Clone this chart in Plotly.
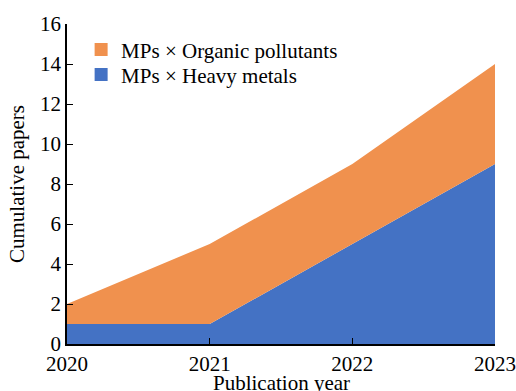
import plotly.graph_objects as go

years = [2020, 2021, 2022, 2023]
heavy_metals = [1, 1, 5, 9]
organic = [1, 4, 4, 5]
tick_vals_y = [0, 2, 4, 6, 8, 10, 12, 14, 16]
BLUE = "#4472C4"
ORANGE = "#F0914E"

FAM = "Times New Roman, Liberation Serif, serif"
FS = 21
F = dict(family=FAM, size=FS, color="black")

fig = go.Figure()
fig.add_trace(go.Scatter(x=years, y=heavy_metals, name="MPs × Heavy metals",
                         stackgroup="one", mode="none", fillcolor=BLUE, showlegend=False))
fig.add_trace(go.Scatter(x=years, y=organic, name="MPs × Organic pollutants",
                         stackgroup="one", mode="none", fillcolor=ORANGE, showlegend=False))
# legend entries as square markers
fig.add_trace(go.Scatter(x=[None], y=[None], mode="markers", name="MPs × Organic pollutants",
                         marker=dict(symbol="square", size=13, color=ORANGE), legend="legend"))
fig.add_trace(go.Scatter(x=[None], y=[None], mode="markers", name="MPs × Heavy metals",
                         marker=dict(symbol="square", size=13, color=BLUE), legend="legend2"))

leg = dict(x=0.033, xanchor="left", yanchor="middle", bgcolor="rgba(0,0,0,0)", font=F)
fig.update_layout(
    width=516, height=391,
    margin=dict(l=67, r=21, t=24, b=47),
    paper_bgcolor="white", plot_bgcolor="white",
    font=F,
    showlegend=True,
    legend=dict(leg, y=0.919),
    legend2=dict(leg, y=0.841),
    xaxis=dict(range=[2020, 2023], tickvals=years, ticktext=[str(y) for y in years],
               showline=True, linecolor="black", linewidth=1.5, ticks="inside",
               ticklen=6, tickcolor="black", showgrid=False, zeroline=False,
               automargin=False, tickfont=F),
    yaxis=dict(range=[0, 16], tickvals=tick_vals_y, showline=True, linecolor="black",
               linewidth=1.5, ticks="inside", ticklen=6, tickcolor="black",
               showgrid=False, zeroline=False, automargin=False,
               title=dict(text="Cumulative papers", standoff=10, font=F),
               tickfont=F),
    annotations=[dict(text="Publication year", xref="paper", yref="paper",
                      x=0.5, y=-0.122, xanchor="center", yanchor="middle",
                      showarrow=False, font=F)],
)
fig.write_html("out.html", config={"displayModeBar": False},
               post_script="document.body.style.margin='0';"
                           "document.documentElement.style.overflow='hidden';"
                           "document.body.style.overflow='hidden';")
